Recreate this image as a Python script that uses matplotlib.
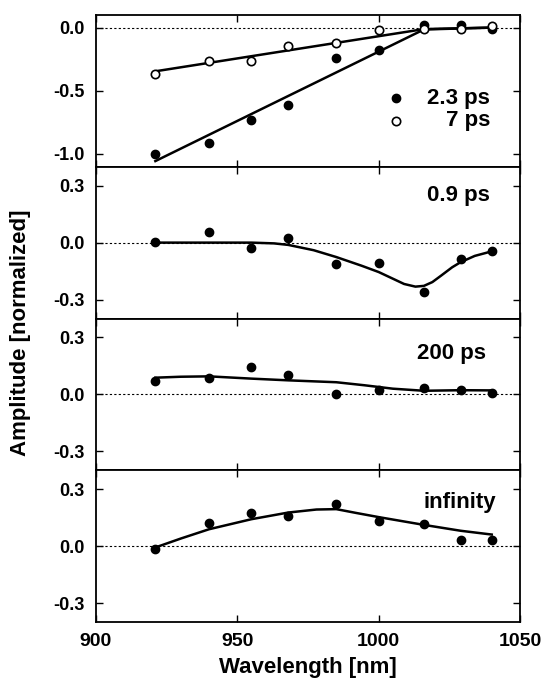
import matplotlib
matplotlib.use("Agg")
import matplotlib.pyplot as plt
import numpy as np

plt.rcParams['font.family'] = ['Liberation Sans', 'DejaVu Sans']
plt.rcParams['font.weight'] = 'bold'
plt.rcParams['axes.unicode_minus'] = False

wavelength = [921, 940, 955, 968, 985, 1000, 1016, 1029, 1040]

# Panel 1: 2.3 ps (filled) and 7 ps (open)
amp_2p3 = [-1.00, -0.92, -0.733, -0.611, -0.243, -0.18, 0.019, 0.019, -0.013]
amp_7 = [-0.365, -0.262, -0.262, -0.146, -0.122, -0.019, -0.008, -0.008, 0.013]
fit_2p3_x = [921, 1016, 1040]
fit_2p3_y = [-1.06, -0.015, 0.0]
fit_7_x = [921, 1016, 1040]
fit_7_y = [-0.347, -0.012, 0.0]

# Panel 2: 0.9 ps
amp_0p9 = [0.005, 0.055, -0.026, 0.026, -0.113, -0.106, -0.258, -0.088, -0.046]
fit_0p9_x = [921, 940, 955, 963, 968, 977, 985, 994, 1000, 1005, 1009, 1013, 1016, 1019, 1022, 1026, 1029, 1034, 1040]
fit_0p9_y = [0.0, 0.0, 0.0, -0.004, -0.012, -0.04, -0.076, -0.122, -0.155, -0.19, -0.218, -0.232, -0.228, -0.208, -0.175, -0.13, -0.103, -0.07, -0.046]

# Panel 3: 200 ps
amp_200 = [0.071, 0.085, 0.143, 0.104, 0.002, 0.021, 0.035, 0.021, 0.009]
fit_200_x = [921, 930, 940, 955, 968, 985, 995, 1005, 1016, 1029, 1040]
fit_200_y = [0.088, 0.093, 0.095, 0.083, 0.074, 0.064, 0.048, 0.030, 0.019, 0.022, 0.021]

# Panel 4: infinity
amp_inf = [-0.014, 0.121, 0.172, 0.16, 0.223, 0.135, 0.118, 0.033, 0.033]
fit_inf_x = [921, 930, 940, 955, 968, 978, 985, 992, 1000, 1016, 1029, 1040]
fit_inf_y = [-0.007, 0.04, 0.089, 0.142, 0.177, 0.193, 0.195, 0.175, 0.153, 0.112, 0.081, 0.061]

labels = ['0.9 ps', '200 ps', 'infinity']

fig = plt.figure(figsize=(5.41, 6.79), dpi=100)
L, R, T, B = 96/541, 520/541, 1 - 15/679, 1 - 622/679
h = (T - B) / 4
axes = [fig.add_axes([L, T - (i + 1) * h, R - L, h]) for i in range(4)]

ms = 6
ytick_font = dict(fontsize=13, fontweight='bold')
xtick_font = dict(fontsize=14, fontweight='bold')
for i, ax in enumerate(axes):
    ax.set_xlim(900, 1050)
    ax.axhline(0, color='black', lw=0.8, ls=(0, (2, 2)), zorder=1)
    ax.tick_params(direction='in', top=True, right=True, length=5, width=1,
                   pad=8)
    for s in ax.spines.values():
        s.set_linewidth(1.3)
    ax.set_xticks([900, 950, 1000, 1050])
    if i < 3:
        ax.tick_params(labelbottom=False)
    else:
        ax.set_xticklabels(['900', '950', '1000', '1050'], **xtick_font)

ax = axes[0]
ax.set_ylim(-1.105, 0.1)
ax.set_yticks([0.0, -0.5, -1.0])
ax.set_yticklabels(['0.0', '-0.5', '-1.0'], **ytick_font)
ax.plot(fit_2p3_x, fit_2p3_y, color='black', lw=1.8, zorder=2)
ax.plot(fit_7_x, fit_7_y, color='black', lw=1.8, zorder=2)
ax.plot(wavelength, amp_2p3, 'o', color='black', ms=ms, zorder=3)
ax.plot(wavelength, amp_7, 'o', mfc='white', mec='black', mew=1.2, ms=ms, zorder=3)
ax.plot([1006], [-0.56], 'o', color='black', ms=ms)
ax.plot([1006], [-0.74], 'o', mfc='white', mec='black', mew=1.2, ms=ms)
ax.text(1039.5, -0.56, '2.3 ps', ha='right', va='center', fontsize=16, fontweight='bold')
ax.text(1039.5, -0.74, '7 ps', ha='right', va='center', fontsize=16, fontweight='bold')

data = [(amp_0p9, fit_0p9_x, fit_0p9_y), (amp_200, fit_200_x, fit_200_y),
        (amp_inf, fit_inf_x, fit_inf_y)]
label_pos = [(1039.5, 0.25), (1038, 0.216), (1041.5, 0.23)]
for ax, (amp, fx, fy), lab, (lx, ly) in zip(axes[1:], data, labels, label_pos):
    ax.set_ylim(-0.4, 0.4)
    ax.set_yticks([0.3, 0.0, -0.3])
    ax.set_yticklabels(['0.3', '0.0', '-0.3'], **ytick_font)
    ax.plot(fx, fy, color='black', lw=1.8, zorder=2)
    ax.plot(wavelength, amp, 'o', color='black', ms=ms, zorder=3)
    ax.text(lx, ly, lab, ha='right', va='center', fontsize=16, fontweight='bold')

axes[3].set_xlabel('Wavelength [nm]', fontsize=16, fontweight='bold', labelpad=5)
fig.text(0.037, 1 - 333/679, 'Amplitude [normalized]', rotation=90, ha='center',
         va='center', fontsize=16, fontweight='bold')

fig.savefig('out.png', dpi=100)
